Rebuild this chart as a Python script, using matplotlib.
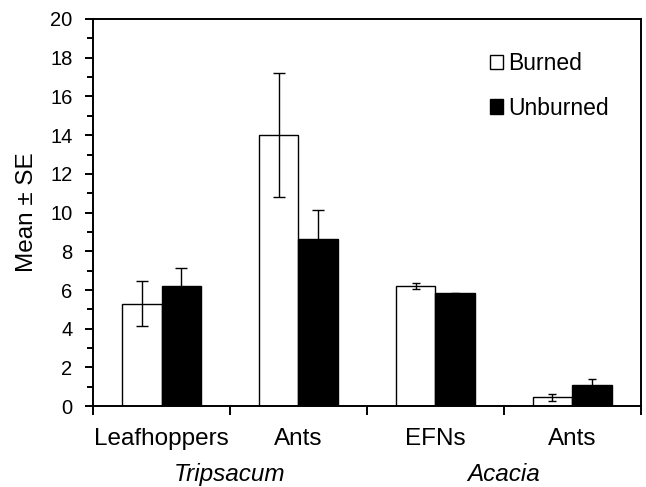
import matplotlib
matplotlib.use("Agg")
import matplotlib.pyplot as plt
from matplotlib.ticker import MultipleLocator
import numpy as np

plt.rcParams['font.family'] = ['Liberation Sans', 'DejaVu Sans']

# data
categories = ["Leafhoppers", "Ants", "EFNs", "Ants"]
groups = ["Tripsacum", "Acacia"]
burned = [5.3, 14.0, 6.2, 0.45]
burned_se = [1.17, 3.22, 0.17, 0.2]
unburned = [6.2, 8.65, 5.82, 1.1]
unburned_se = [0.96, 1.5, 0.03, 0.3]

fig = plt.figure(figsize=(6.46, 4.87), dpi=100)
ax = fig.add_axes([0.144, 0.166, 0.848, 0.795])

x = np.arange(len(categories))
w = 0.29
ax.bar(x - w/2, burned, w, color='white', edgecolor='black', linewidth=1.0,
       label='Burned', zorder=2)
ax.bar(x + w/2, unburned, w, color='black', edgecolor='black', linewidth=1.0,
       label='Unburned', zorder=2)

# caps were drawn wider on the Tripsacum panel than on the Acacia one
caps = [4.6, 4.6, 2.9, 2.9]
for i in range(len(categories)):
    ax.errorbar(x[i] - w/2, burned[i], yerr=burned_se[i], fmt='none', ecolor='black',
                elinewidth=1.0, capsize=caps[i], capthick=1.0, zorder=3)
    ax.errorbar(x[i] + w/2, unburned[i], yerr=unburned_se[i], fmt='none', ecolor='black',
                elinewidth=1.0, capsize=caps[i], capthick=1.0, zorder=3)

ax.set_xlim(-0.5, len(categories) - 0.5)
ax.set_ylim(0, 20)
ax.yaxis.set_major_locator(MultipleLocator(2))
ax.yaxis.set_minor_locator(MultipleLocator(1))
ax.tick_params(axis='y', which='major', length=5.8, width=1.4, labelsize=14.5,
               direction='out', pad=9)
ax.tick_params(axis='y', which='minor', length=4.0, width=1.4, direction='out')

# boundary ticks on x, labels at the category centres
ax.set_xticks(np.arange(len(categories) + 1) - 0.5)
ax.set_xticklabels([])
ax.tick_params(axis='x', which='major', length=6.5, width=1.4, direction='out')
for i, c in enumerate(categories):
    ax.text(i, -2.02, c, ha='center', va='baseline', fontsize=17.5)
for j, g in enumerate(groups):
    ax.text(2*j + 0.5, -3.86, g, ha='center', va='baseline', fontsize=17.5,
            style='italic')

for s in ax.spines.values():
    s.set_linewidth(1.4)

ax.set_ylabel("Mean ± SE", fontsize=17.5)
ax.yaxis.set_label_coords(-0.1, 0.5)

ax.legend(loc='upper left', bbox_to_anchor=(0.724, 0.915), frameon=False, fontsize=16.5,
          borderaxespad=0, borderpad=0, handlelength=0.6, handleheight=0.6,
          handletextpad=0.2, labelspacing=0.95)

fig.savefig("out.png", dpi=100)
